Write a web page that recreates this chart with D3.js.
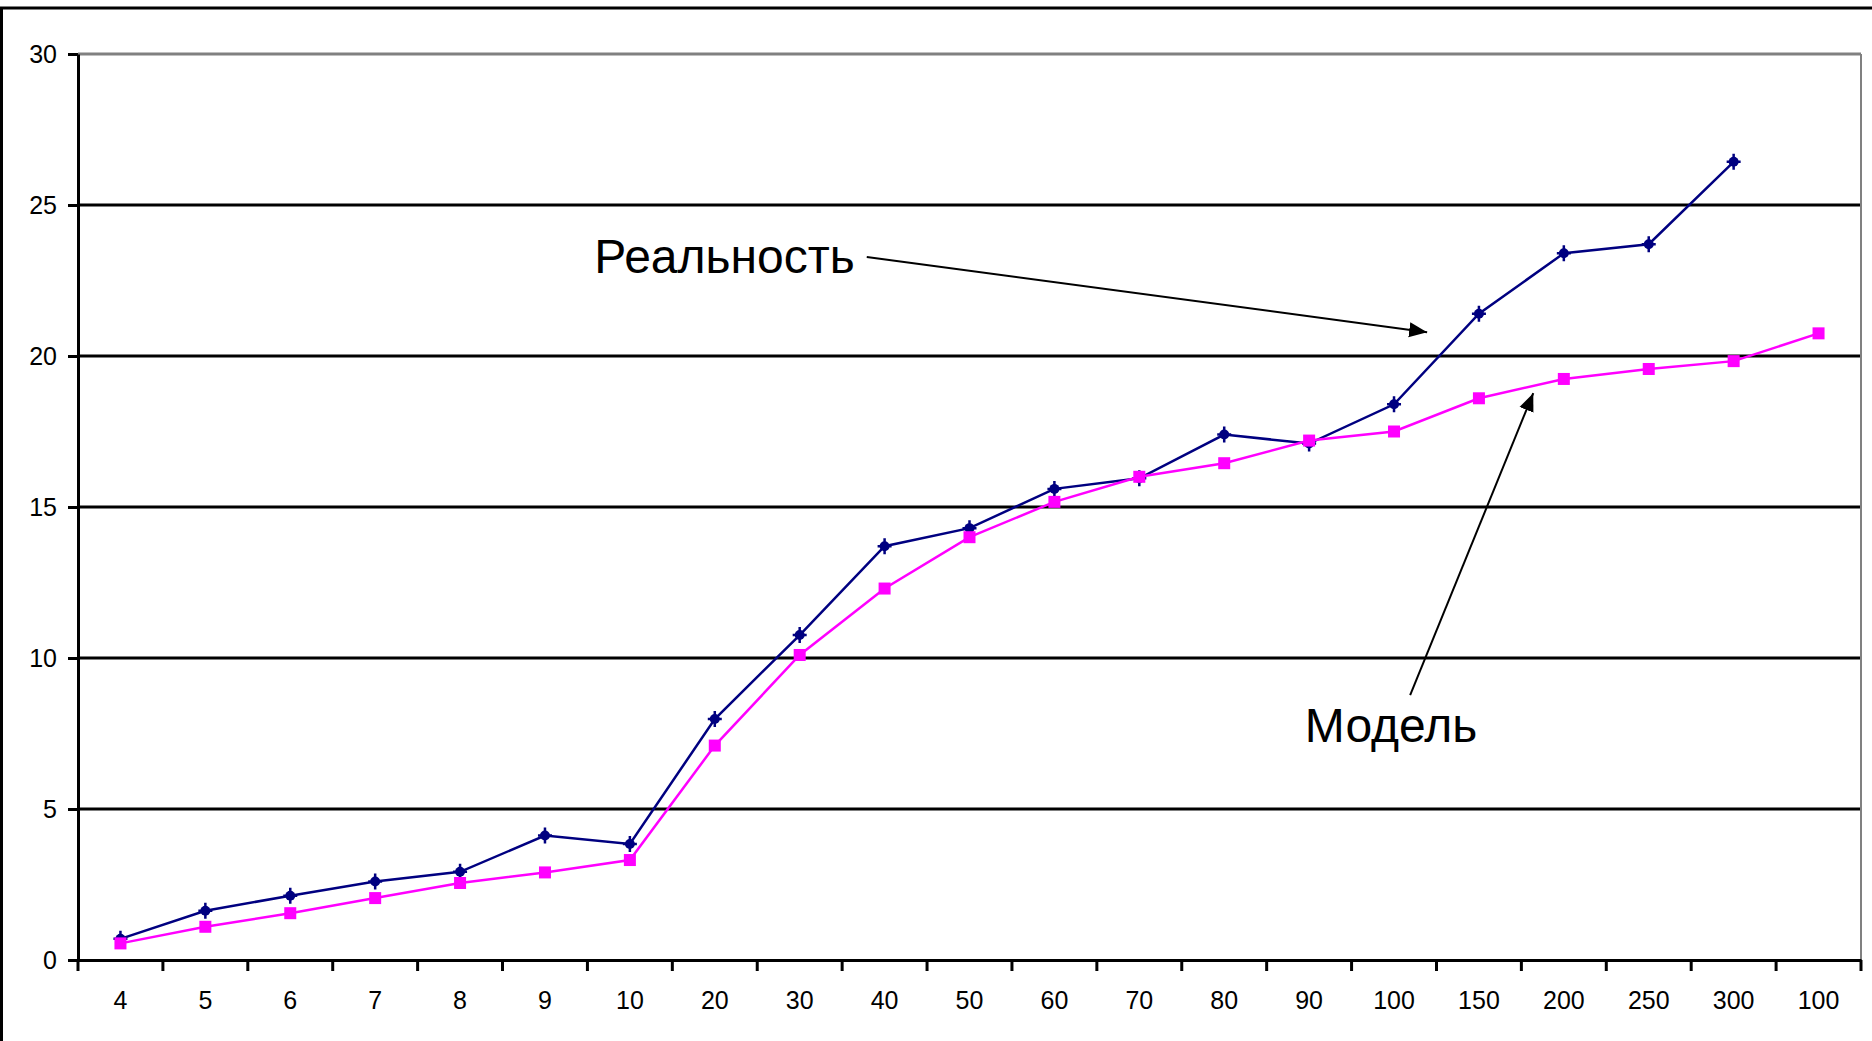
<!DOCTYPE html>
<html>
<head>
<meta charset="utf-8">
<script src="https://cdn.jsdelivr.net/npm/d3@7"></script>
<style>
  body { margin: 0; background: #fff; }
  svg { display: block; }
</style>
</head>
<body>
<script>
// x categories (the last "100" is a separate point, as in the original)
var categories = ["4", "5", "6", "7", "8", "9", "10", "20", "30", "40", "50",
                  "60", "70", "80", "90", "100", "150", "200", "250", "300", "100"];

// Реальность (navy, star markers)
var realValues = [0.7, 1.63, 2.13, 2.6, 2.92, 4.12, 3.84, 7.98, 10.76, 13.7, 14.3,
                  15.6, 15.95, 17.4, 17.1, 18.4, 21.4, 23.4, 23.7, 26.43];

// Модель (magenta, square markers)
var modelValues = [0.55, 1.1, 1.55, 2.05, 2.55, 2.9, 3.31, 7.1, 10.1, 12.3, 14.0,
                   15.17, 16.0, 16.45, 17.2, 17.5, 18.6, 19.24, 19.57, 19.83, 20.75];

var yTicks = [0, 5, 10, 15, 20, 25, 30];

// annotation text and arrows, in (category index, value) space
var labels = [
    { text: "Реальность", at: [6.08, 22.75], from: [9.29, 23.28], to: [15.89, 20.79] },
    { text: "Модель", at: [14.45, 7.22], from: [15.69, 8.77], to: [17.14, 18.77] }
];

var width = 1872, height = 1041;
var plot = { left: 78, right: 1861, top: 54, bottom: 960 };
var font = "'Liberation Sans', Arial, sans-serif";

var svg = d3.select("body")
    .append("svg")
    .attr("width", width)
    .attr("height", height);

// outer frame, the right and bottom sides are cut off in the picture
svg.append("path")
    .attr("d", "M1.5," + height + "V8H" + width)
    .attr("fill", "none")
    .attr("stroke", "#000")
    .attr("stroke-width", 3);

var x = d3.scaleBand()
    .domain(d3.range(categories.length))
    .range([plot.left, plot.right]);

var y = d3.scaleLinear()
    .domain([0, 30])
    .range([plot.bottom, plot.top]);

var cx = function (i) { return x(i) + x.bandwidth() / 2; };
var px = function (p) { return plot.left + p[0] * x.step(); };

// gridlines, top one is the grey plot border
svg.append("g")
    .selectAll("line")
    .data(yTicks.filter(function (d) { return d > 0; }))
    .enter().append("line")
    .attr("x1", plot.left)
    .attr("x2", plot.right)
    .attr("y1", function (d) { return y(d); })
    .attr("y2", function (d) { return y(d); })
    .attr("stroke", function (d) { return d === 30 ? "#808080" : "#000"; })
    .attr("stroke-width", 3);

svg.append("line")
    .attr("x1", plot.right).attr("x2", plot.right)
    .attr("y1", plot.top).attr("y2", plot.bottom)
    .attr("stroke", "#808080")
    .attr("stroke-width", 2);

// y axis
var yAxis = svg.append("g")
    .attr("transform", "translate(" + plot.left + ",0)")
    .call(d3.axisLeft(y).tickValues(yTicks).tickSize(10).tickSizeOuter(0).tickPadding(11));
yAxis.attr("font-size", 25).attr("font-family", font);
yAxis.select(".domain").attr("stroke-width", 3);
yAxis.selectAll(".tick line").attr("stroke-width", 3);

// x axis: labels centred in bands, ticks on band edges
var xAxis = svg.append("g")
    .attr("transform", "translate(0," + plot.bottom + ")")
    .call(d3.axisBottom(x).tickFormat(function (i) { return categories[i]; })
        .tickSize(0).tickSizeOuter(0).tickPadding(31));
xAxis.attr("font-size", 25).attr("font-family", font);
xAxis.select(".domain").attr("stroke-width", 3);

svg.append("g")
    .selectAll("line")
    .data(d3.range(categories.length + 1))
    .enter().append("line")
    .attr("x1", function (i) { return plot.left + i * x.step(); })
    .attr("x2", function (i) { return plot.left + i * x.step(); })
    .attr("y1", plot.bottom)
    .attr("y2", plot.bottom + 11)
    .attr("stroke", "#000")
    .attr("stroke-width", 3);

var line = d3.line()
    .x(function (d, i) { return cx(i); })
    .y(function (d) { return y(d); });

// Реальность
svg.append("path")
    .attr("d", line(realValues))
    .attr("fill", "none")
    .attr("stroke", "#000080")
    .attr("stroke-width", 2.5);

var stars = svg.append("g")
    .selectAll("g")
    .data(realValues)
    .enter().append("g")
    .attr("transform", function (d, i) { return "translate(" + cx(i) + "," + y(d) + ")"; });
stars.append("circle")
    .attr("r", 5)
    .attr("fill", "#000080");
stars.append("path")
    .attr("d", "M-7,0H7M0,-8V8")
    .attr("stroke", "#000080")
    .attr("stroke-width", 2.5);

// Модель
svg.append("path")
    .attr("d", line(modelValues))
    .attr("fill", "none")
    .attr("stroke", "#ff00ff")
    .attr("stroke-width", 2.5);

svg.append("g")
    .selectAll("rect")
    .data(modelValues)
    .enter().append("rect")
    .attr("x", function (d, i) { return cx(i) - 6; })
    .attr("y", function (d) { return y(d) - 6; })
    .attr("width", 12)
    .attr("height", 12)
    .attr("fill", "#ff00ff");

// annotations
svg.append("defs").append("marker")
    .attr("id", "head")
    .attr("markerUnits", "userSpaceOnUse")
    .attr("viewBox", "0 -8 18 16")
    .attr("refX", 18).attr("refY", 0)
    .attr("markerWidth", 18).attr("markerHeight", 16)
    .attr("orient", "auto")
    .append("path")
    .attr("d", "M0,-7.5L18,0L0,7.5Z")
    .attr("fill", "#000");

var notes = svg.append("g");
notes.selectAll("line")
    .data(labels)
    .enter().append("line")
    .attr("x1", function (d) { return px(d.from); })
    .attr("y1", function (d) { return y(d.from[1]); })
    .attr("x2", function (d) { return px(d.to); })
    .attr("y2", function (d) { return y(d.to[1]); })
    .attr("stroke", "#000")
    .attr("stroke-width", 2)
    .attr("marker-end", "url(#head)");

notes.selectAll("text")
    .data(labels)
    .enter().append("text")
    .attr("x", function (d) { return px(d.at); })
    .attr("y", function (d) { return y(d.at[1]); })
    .attr("font-family", font)
    .attr("font-size", 48)
    .attr("fill", "#000")
    .text(function (d) { return d.text; });
</script>
</body>
</html>
